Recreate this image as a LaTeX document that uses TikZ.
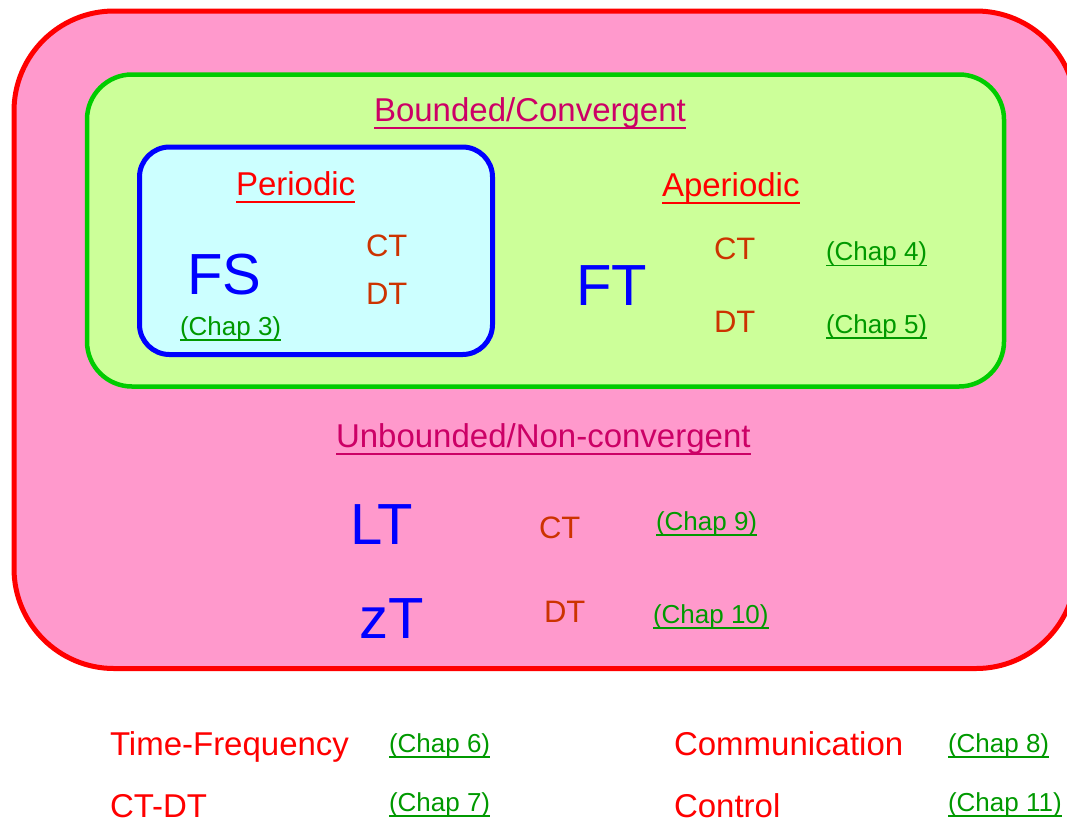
\documentclass[tikz,border=0pt]{standalone}
\usepackage{fontspec}
\setmainfont{Liberation Sans}

\definecolor{outerfill}{HTML}{FF99CC}
\definecolor{outerline}{HTML}{FF0000}
\definecolor{midfill}{HTML}{CCFF99}
\definecolor{midline}{HTML}{00CC00}
\definecolor{innerfill}{HTML}{CCFFFF}
\definecolor{innerline}{HTML}{0000FF}
\definecolor{classcol}{HTML}{CC0066}
\definecolor{titlecol}{HTML}{FF0000}
\definecolor{domaincol}{HTML}{CC3300}
\definecolor{chapcol}{HTML}{009900}
\definecolor{transcol}{HTML}{0000FF}

\tikzset{
  lbl/.style={anchor=base west, inner sep=0pt, outer sep=0pt},
  classlbl/.style={lbl, text=classcol, font=\fontsize{33}{40}\selectfont},
  titlelbl/.style={lbl, text=titlecol, font=\fontsize{33}{40}\selectfont},
  domainlbl/.style={lbl, text=domaincol, font=\fontsize{31}{37}\selectfont},
  chaplbl/.style={lbl, text=chapcol, font=\fontsize{26}{31}\selectfont},
  translbl/.style={lbl, text=transcol, font=\fontsize{58}{68}\selectfont},
  topiclbl/.style={lbl, text=titlecol, font=\fontsize{33}{40}\selectfont},
}

% underline a named text node: #1 node, #2 colour, #3 drop below baseline, #4 thickness
\newcommand\underlinenode[4]{%
  \draw[#2, line width=#4] ([yshift=-#3]#1.base west) -- ([yshift=-#3]#1.base east);}

\begin{document}
\begin{tikzpicture}[x=1pt, y=-1pt]
  \useasboundingbox (0,0) rectangle (1067,820);
  \clip (0,0) rectangle (1067,820);

  % nested signal classes
  \draw[outerline, fill=outerfill, line width=5pt, rounded corners=100pt]
    (14,11) rectangle (1076,668.5);
  \draw[midline, fill=midfill, line width=4.5pt, rounded corners=45pt]
    (87,74.5) rectangle (1004,386.5);
  \draw[innerline, fill=innerfill, line width=5pt, rounded corners=30pt]
    (139.5,147) rectangle (492.5,354.5);

  % bounded / convergent
  \node[classlbl] (bounded) at (374,121.5) {Bounded/Convergent};
  \underlinenode{bounded}{classcol}{6.5pt}{2pt}

  % periodic
  \node[titlelbl] (periodic) at (236,195.5) {Periodic};
  \underlinenode{periodic}{titlecol}{6.5pt}{2pt}
  \node[translbl] (fs) at (187,294) {FS};
  \node[domainlbl] (pct) at (366,256) {CT};
  \node[domainlbl] (pdt) at (366,304) {DT};
  \node[chaplbl] (c3) at (180,335) {(Chap 3)};
  \underlinenode{c3}{chapcol}{5pt}{1.8pt}

  % aperiodic
  \node[titlelbl] (aperiodic) at (662,196) {Aperiodic};
  \underlinenode{aperiodic}{titlecol}{6.5pt}{2pt}
  \node[translbl] (ft) at (576,305) {FT};
  \node[domainlbl] (act) at (714,259) {CT};
  \node[domainlbl] (adt) at (714,332) {DT};
  \node[chaplbl] (c4) at (826,260.5) {(Chap 4)};
  \underlinenode{c4}{chapcol}{5pt}{1.8pt}
  \node[chaplbl] (c5) at (826,333) {(Chap 5)};
  \underlinenode{c5}{chapcol}{5pt}{1.8pt}

  % unbounded / non-convergent
  \node[classlbl] (unbounded) at (336,447) {Unbounded/Non-convergent};
  \underlinenode{unbounded}{classcol}{6.5pt}{2pt}
  \node[translbl] (lt) at (350,544) {LT};
  \node[translbl] (zt) at (359,638) {zT};
  \node[domainlbl] (uct) at (539,538) {CT};
  \node[domainlbl] (udt) at (544,622) {DT};
  \node[chaplbl] (c9) at (656,530) {(Chap 9)};
  \underlinenode{c9}{chapcol}{5pt}{1.8pt}
  \node[chaplbl] (c10) at (653,623) {(Chap 10)};
  \underlinenode{c10}{chapcol}{5pt}{1.8pt}

  % applications
  \node[topiclbl] (tf) at (110,755) {Time-Frequency};
  \node[chaplbl] (c6) at (389,752) {(Chap 6)};
  \underlinenode{c6}{chapcol}{5pt}{1.8pt}
  \node[topiclbl] (ctdt) at (110,817) {CT-DT};
  \node[chaplbl] (c7) at (389,811) {(Chap 7)};
  \underlinenode{c7}{chapcol}{5pt}{1.8pt}
  \node[topiclbl] (comm) at (674,755) {Communication};
  \node[chaplbl] (c8) at (948,752) {(Chap 8)};
  \underlinenode{c8}{chapcol}{5pt}{1.8pt}
  \node[topiclbl] (ctrl) at (674,817) {Control};
  \node[chaplbl] (c11) at (948,811) {(Chap 11)};
  \underlinenode{c11}{chapcol}{5pt}{1.8pt}
\end{tikzpicture}
\end{document}
